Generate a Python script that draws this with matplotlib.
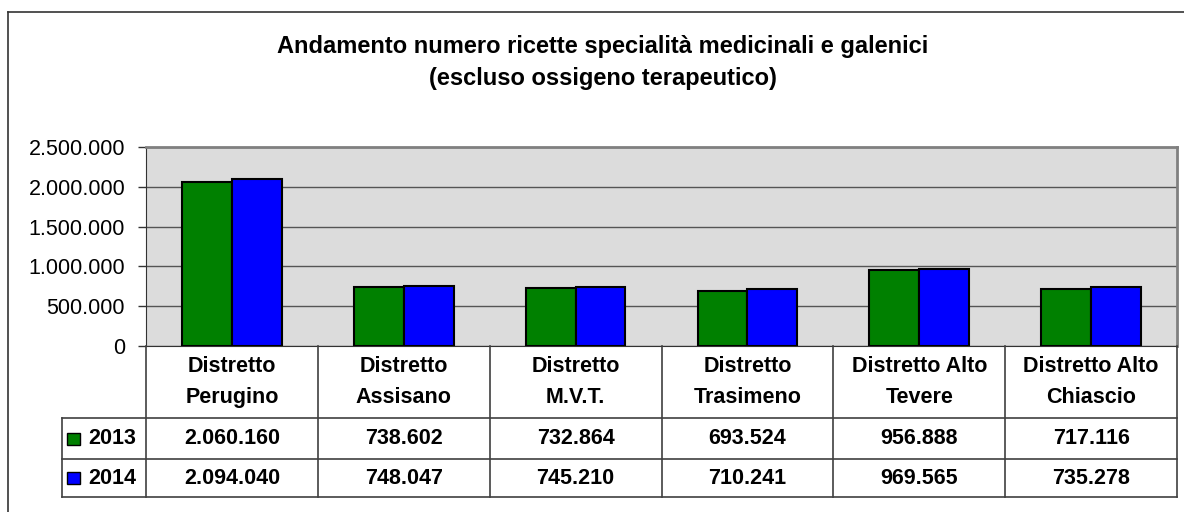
import matplotlib
matplotlib.use("Agg")
from matplotlib import pyplot as plt
from matplotlib.lines import Line2D
from matplotlib.patches import Rectangle

# data
districts = ["Distretto\nPerugino", "Distretto\nAssisano", "Distretto\nM.V.T.",
             "Distretto\nTrasimeno", "Distretto Alto\nTevere", "Distretto Alto\nChiascio"]
years = ["2013", "2014"]
ric_2013 = [2060160, 738602, 732864, 693524, 956888, 717116]
ric_2014 = [2094040, 748047, 745210, 710241, 969565, 735278]
colors = ["#008000", "#0000FF"]
title = "Andamento numero ricette specialità medicinali e galenici\n(escluso ossigeno terapeutico)"

plt.rcParams["font.family"] = ["Liberation Sans", "DejaVu Sans"]
fs = 15.5

W, H = 1184, 512
def box(l, t, r, b):
    return [l / W, 1 - b / H, (r - l) / W, (b - t) / H]

def it(v):
    return f"{v:,.0f}".replace(",", ".")

fig = plt.figure(figsize=(11.84, 5.12), dpi=100)

# outer frame (goes off the right and bottom edge)
fig.add_artist(Line2D([8 / W, 1.01], [1 - 12 / H, 1 - 12 / H], color="#333333", lw=1.2))
fig.add_artist(Line2D([8 / W, 8 / W], [1 - 12 / H, -0.01], color="#333333", lw=1.2))

fig.text(603 / W, 1 - 62.5 / H, title, ha="center", va="center", fontsize=17,
         fontweight="bold", linespacing=1.5)

# bars
ax = fig.add_axes(box(146, 147, 1177, 346))
ax.set_facecolor("#DCDCDC")
x = list(range(len(districts)))
bw = 0.29
ax.bar([i - bw / 2 for i in x], ric_2013, width=bw, color=colors[0], edgecolor="black", lw=1.5, zorder=3)
ax.bar([i + bw / 2 for i in x], ric_2014, width=bw, color=colors[1], edgecolor="black", lw=1.5, zorder=3)
ax.set_xlim(-0.5, len(districts) - 0.5)
ax.set_ylim(0, 2500000)
yt = [0, 500000, 1000000, 1500000, 2000000, 2500000]
ax.set_yticks(yt)
ax.set_yticklabels([it(v) for v in yt], fontsize=fs)
ax.set_xticks([])
ax.tick_params(axis="y", length=6, width=1, pad=9, color="#333333")
ax.yaxis.grid(True, color="#555555", lw=1)
ax.set_axisbelow(True)
for s in ["top", "right"]:
    ax.spines[s].set_color("#808080")
    ax.spines[s].set_linewidth(2)
ax.spines["left"].set_color("#333333")
ax.spines["bottom"].set_color("#333333")

# data table under the chart
colw = (1177 - 146) / len(districts)
leg = 84 / colw
tab = fig.add_axes(box(62, 346, 1177, 497))
tab.set_xlim(-0.5 - leg, len(districts) - 0.5)
tab.set_ylim(151, 0)
tab.axis("off")
lc = "#404040"
for i in range(len(districts) + 1):
    tab.plot([i - 0.5, i - 0.5], [0, 151], color=lc, lw=1.2, clip_on=False)
tab.plot([-0.5 - leg, -0.5 - leg], [72, 151], color=lc, lw=1.2, clip_on=False)
for yy in [72, 113, 151]:
    tab.plot([-0.5 - leg, len(districts) - 0.5], [yy, yy], color=lc, lw=1.2, clip_on=False)

for i, d in enumerate(districts):
    tab.text(i, 36, d, ha="center", va="center", fontsize=fs, fontweight="bold", linespacing=1.6)
rows = [ric_2013, ric_2014]
centers = [92.5, 132]
for r, (yr, vals, c, yc) in enumerate(zip(years, rows, colors, centers)):
    tab.add_patch(Rectangle((-0.5 - leg + 5 / colw, yc - 6), 13 / colw, 12,
                            facecolor=c, edgecolor="black", lw=1, clip_on=False))
    tab.text(-0.5 - leg + 26 / colw, yc, yr, ha="left", va="center", fontsize=fs, fontweight="bold")
    for i, v in enumerate(vals):
        tab.text(i, yc, it(v), ha="center", va="center", fontsize=fs, fontweight="bold")

fig.savefig("out.png", dpi=100)
